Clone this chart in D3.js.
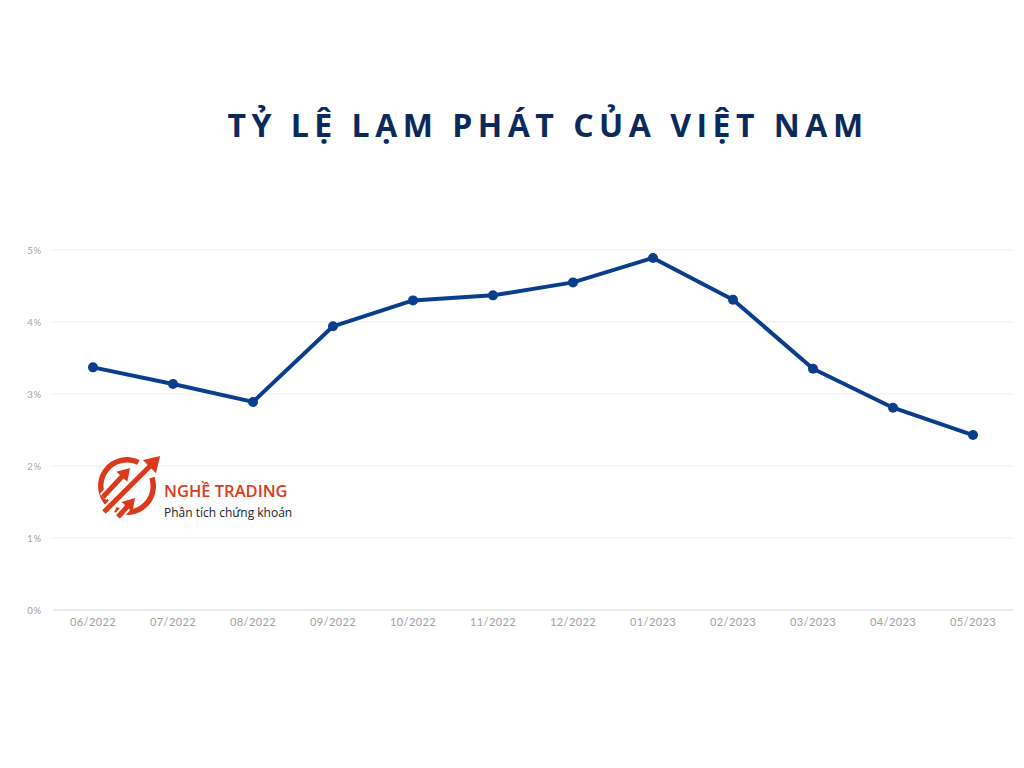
<!DOCTYPE html>
<html><head><meta charset="utf-8">
<script src="https://cdn.jsdelivr.net/npm/d3@7"></script>
<style>body{margin:0;background:#fff}svg{display:block}</style>
</head><body><svg id="c" width="1024" height="768"></svg>
<script>
const months = ["06/2022","07/2022","08/2022","09/2022","10/2022","11/2022","12/2022","01/2023","02/2023","03/2023","04/2023","05/2023"];
const inflation = [3.37,3.14,2.89,3.94,4.30,4.37,4.55,4.89,4.31,3.35,2.81,2.43];
const yTicks = [0,1,2,3,4,5];
const title = "TỶ LỆ LẠM PHÁT CỦA VIỆT NAM";
const brand = "NGHỀ TRADING";
const slogan = "Phân tích chứng khoán";

const svg = d3.select("#c");
const x = d3.scaleBand().domain(months).range([53,1013]);
const y = d3.scaleLinear().domain([0,5]).range([610,250]);

svg.append("text").attr("x",548).attr("y",137).attr("text-anchor","middle")
  .attr("font-family","'Open Sans',sans-serif").attr("font-weight",700).attr("font-size",32)
  .attr("letter-spacing",5.5).attr("fill","#0b2a5b").text(title);

// grid
svg.append("g").selectAll("line").data(yTicks).join("line")
  .attr("x1",53).attr("x2",1013).attr("y1",d=>y(d)).attr("y2",d=>y(d))
  .attr("stroke",d=>d===0?"#d6d6d6":"#ececec").attr("stroke-width",1);

// y axis labels
const yAxis = d3.axisLeft(y).tickValues(yTicks).tickFormat(d=>d+"%").tickSize(0).tickPadding(0);
const ga = svg.append("g").attr("transform","translate(42,0)").call(yAxis);
ga.select(".domain").remove();
ga.selectAll("text").attr("font-family","Lato,sans-serif").attr("font-size",9.5).attr("fill","#a3a3a3").attr("letter-spacing",0.8);

const xAxis = d3.axisBottom(x).tickSize(0).tickPadding(8);
const gx = svg.append("g").attr("transform","translate(0,610)").call(xAxis);
gx.select(".domain").remove();
gx.selectAll("text").attr("font-family","Lato,sans-serif").attr("font-size",11).attr("fill","#a0a0a0").attr("letter-spacing",0.4);

// logo
const red = "#d93a1b";
const logo = svg.append("g").attr("transform","translate(127,486)").attr("fill",red).attr("stroke",red).attr("stroke-linecap","butt");
const arc = d3.arc();
logo.append("path").attr("stroke","none").attr("d",arc({innerRadius:23.5,outerRadius:29,startAngle:-2.35,endAngle:0.45}));
logo.append("path").attr("stroke","none").attr("d",arc({innerRadius:23.5,outerRadius:29,startAngle:1.25,endAngle:3.6}));
function arrow(x1,y1,x2,y2,w,head){
  const a = Math.atan2(y2-y1,x2-x1), L = head;
  const bx = x2 - L*Math.cos(a), by = y2 - L*Math.sin(a);
  const px = Math.cos(a+Math.PI/2)*L*0.62, py = Math.sin(a+Math.PI/2)*L*0.62;
  logo.append("line").attr("x1",x1).attr("y1",y1).attr("x2",bx).attr("y2",by).attr("stroke","#fff").attr("stroke-width",w+4);
  logo.append("line").attr("x1",x1).attr("y1",y1).attr("x2",bx+Math.cos(a)).attr("y2",by+Math.sin(a)).attr("stroke-width",w);
  logo.append("path").attr("stroke","none").attr("d",`M${x2},${y2}L${bx+px},${by+py}L${bx-px},${by-py}Z`);
}
arrow(-23,26,33,-30,5,15);
arrow(-24,11,3,-18,5,12);
arrow(-9,31,8,12,5,12);

svg.append("text").attr("x",164).attr("y",497).attr("font-family","'Open Sans',sans-serif").attr("font-weight",600)
  .attr("font-size",16.5).attr("fill",red).text(brand);
svg.append("text").attr("x",164).attr("y",517).attr("font-family","'Open Sans',sans-serif")
  .attr("font-size",12).attr("fill","#222").text(slogan);

// line
const cx = d=>x(d)+x.bandwidth()/2;
const line = d3.line().x((d,i)=>cx(months[i])).y(d=>y(d));
svg.append("path").datum(inflation).attr("d",line).attr("fill","none")
  .attr("stroke","#0a3d8c").attr("stroke-width",4).attr("stroke-linejoin","round");
svg.append("g").selectAll("circle").data(inflation).join("circle")
  .attr("cx",(d,i)=>cx(months[i])).attr("cy",d=>y(d)).attr("r",5).attr("fill","#0a3d8c");
</script></body></html>
